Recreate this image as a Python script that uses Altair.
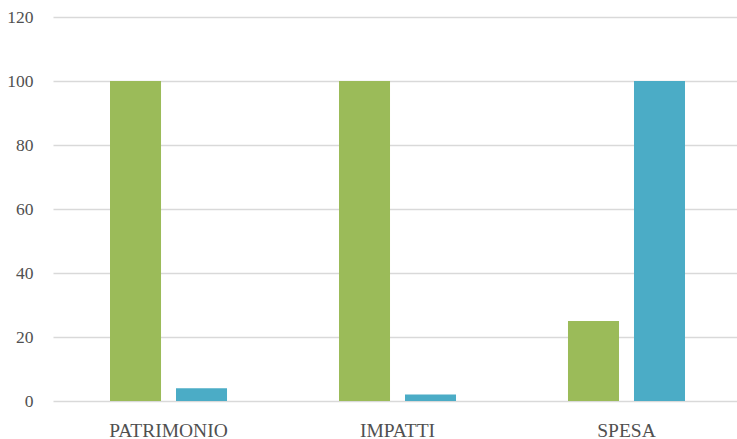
import altair as alt
import pandas as pd

categories = ["PATRIMONIO", "IMPATTI", "SPESA"]
series_names = ["A", "B"]
series_a = [100, 100, 25]
series_b = [4, 2, 100]
colors = ["#9BBB59", "#4BACC6"]

rows = []
for c, a, b in zip(categories, series_a, series_b):
    rows.append({"cat": c, "serie": series_names[0], "val": a})
    rows.append({"cat": c, "serie": series_names[1], "val": b})
df = pd.DataFrame(rows)

font = "Liberation Serif"

chart = alt.Chart(df).mark_bar().encode(
    x=alt.X("cat:N", sort=categories, title=None,
            scale=alt.Scale(paddingInner=0.489, paddingOuter=0.238, align=0.523),
            axis=alt.Axis(labelAngle=0, domain=False, ticks=False, grid=False,
                          labelFont=font, labelFontSize=19.5, labelColor="#505050",
                          labelPadding=20)),
    xOffset=alt.XOffset("serie:N", sort=series_names,
                        scale=alt.Scale(paddingInner=0.227, paddingOuter=0)),
    y=alt.Y("val:Q", title=None,
            scale=alt.Scale(domain=[0, 120]),
            axis=alt.Axis(values=[0, 20, 40, 60, 80, 100, 120], domain=False, ticks=False,
                          gridColor="#d9d9d9", gridWidth=1.3,
                          labelFont=font, labelFontSize=17.5, labelColor="#505050",
                          labelPadding=20)),
    color=alt.Color("serie:N", sort=series_names,
                    scale=alt.Scale(domain=series_names, range=colors), legend=None),
).properties(
    width=684, height=384,
    autosize=alt.AutoSizeParams(type="none"),
    padding={"left": 53, "top": 17, "right": 0, "bottom": 38},
).configure_view(stroke=None)

chart.save("out.html", embed_options={"renderer": "svg", "actions": False})
